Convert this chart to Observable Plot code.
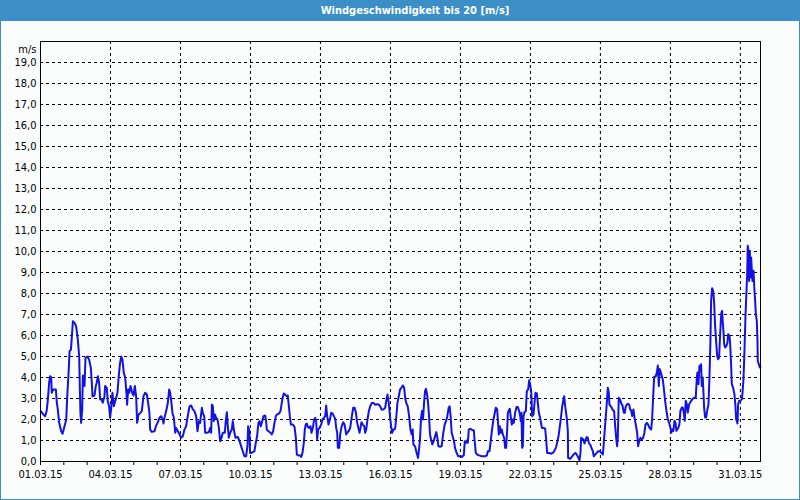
<!DOCTYPE html>
<html><head><meta charset="utf-8">
<script src="https://cdn.jsdelivr.net/npm/d3@7"></script>
<script src="https://cdn.jsdelivr.net/npm/@observablehq/plot@0.6"></script>
<style>
html,body{margin:0;padding:0;background:#fbfdfc;}
#frame{position:absolute;left:0;top:0;width:800px;height:500px;box-sizing:border-box;border:1px solid #3c8fc6;background:#fbfdfc;overflow:hidden;}
#title{position:absolute;left:-1px;top:-1px;width:800px;height:21px;box-sizing:border-box;padding-left:30px;background:#3c8fc6;color:#fff;font-family:"DejaVu Sans Condensed","DejaVu Sans",sans-serif;font-stretch:condensed;font-weight:bold;font-size:11px;text-align:center;line-height:21px;}
#chart{position:absolute;left:0;top:20px;}
</style></head><body>
<div id="frame"><div id="title">Windgeschwindigkeit bis 20 [m/s]</div><div id="chart"></div></div>
<script>
// Wind speed readings: [hours since 01.03.15 00:00, m/s]
const readings = [
[0.3,2.4],[2.9,2.24],[4.8,2.16],[6.3,2.4],[7.5,2.9],[8.9,3.75],[9.9,4.06],[11,4.0],[11.6,3.27],[13,3.43],[15.8,3.43],[16.8,2.8],[17.8,2.48],[19.2,1.84],[21.3,1.44],[22.7,1.32],[24.7,1.68],[26.5,2.0],[27.5,3.1],[28.9,4.22],[29.9,5.25],[31.3,5.33],[32.2,5.9],[33.3,6.68],[35,6.6],[36.7,6.44],[38.4,5.8],[39.8,5.0],[40.5,3.43],[41.1,2.3],[41.8,1.84],[42.9,2.48],[43.6,4.1],[44.6,4.0],[45.3,3.6],[46.3,4.94],[48,5.0],[50,4.86],[51.8,4.46],[52.8,3.75],[53.5,3.1],[55.5,3.14],[56.9,3.6],[57.9,3.75],[59,4.06],[60.3,3.75],[61.4,2.95],[63,2.95],[64,2.8],[65.8,3.1],[66.5,3.6],[68.2,3.5],[69.2,2.87],[70.6,2.63],[71.6,2.08],[72.6,2.48],[74,3.27],[75.4,2.63],[76.8,2.87],[77.8,3.03],[79.2,3.27],[80.2,3.9],[81.6,4.6],[83,5.0],[84.3,4.86],[85.7,4.22],[87.1,4.0],[88.4,3.27],[89.1,2.7],[90.2,3.43],[91.2,3.27],[92.6,3.6],[94.3,3.27],[95.7,3.14],[97,3.6],[98.4,3.1],[99.4,1.84],[100.8,2.24],[102.5,2.3],[104.2,2.4],[105.9,3.1],[107.6,3.27],
[109.4,3.19],[110.7,2.8],[112.1,2.3],[112.8,1.52],[114.5,1.41],[117.3,1.44],[118.7,1.68],[120.4,1.84],[122.4,2.08],[124.1,2.16],[125.8,2.0],[126.5,1.81],[127.5,2.08],[129.3,2.4],[131,2.8],[132.4,3.43],[133.4,3.27],[134.5,2.87],[135.8,2.3],[137.2,2.08],[138.6,1.37],[139.5,1.6],[141.3,1.44],[143,1.29],[144.7,1.13],[146.4,1.2],[148.1,1.52],[149.8,1.68],[151.5,2.16],[153.3,2.63],[155,2.67],[156.7,2.48],[158.4,2.4],[160.1,2.16],[161.5,1.44],[162.9,1.92],[164.2,1.84],[166,2.56],[167,2.3],[168.4,2.16],[169.4,1.37],[171.1,1.37],[173.2,1.4],[174.6,1.6],[175.6,1.37],[176.3,2.71],[177.3,2.63],[178.3,1.92],[179.4,2.24],[180.7,2.08],[182.1,2.0],[183.5,1.6],[184.8,0.97],[186.2,1.13],[187.6,1.37],[189.6,1.37],[190.6,1.92],[191.7,2.35],[192.7,1.68],[193.7,1.13],[195.1,1.37],[196.8,1.52],[197.8,1.92],[199.2,1.44],[200.6,1.13],[203,1.17],[204.7,0.97],[206.4,0.73],[208.1,0.49],[209.8,0.25],[211.5,0.25],[212.9,0.73],[213.6,1.68],[214.9,1.44],[215.6,0.41],[217,0.41],
[220.1,0.49],[221.5,0.89],[222.8,1.2],[224.2,1.84],[225.3,1.92],[226.6,1.68],[227.6,1.84],[229.4,2.16],[231.1,2.19],[232.1,1.92],[232.8,1.52],[234.5,1.44],[236.6,1.37],[237.9,1.29],[239.3,1.44],[240.7,1.84],[242.1,2.16],[243.4,2.24],[245.5,2.29],[246.9,2.4],[248.2,2.79],[249.3,3.08],[250.3,3.24],[251.7,3.19],[253.1,3.11],[254.4,3.14],[255.5,2.63],[256.5,2.16],[257.6,1.76],[259.6,1.76],[261.3,1.65],[262.7,1.13],[263.7,0.33],[265.4,0.29],[267.1,0.29],[268.2,0.22],[269.5,0.41],[270.9,0.89],[271.9,1.52],[272.9,1.76],[274,1.81],[275,1.65],[276.4,1.6],[277.8,1.68],[278.8,1.37],[280.2,1.6],[281.5,2.0],[282.6,2.08],[283.6,1.92],[284.6,1.05],[285.7,1.52],[287,1.6],[288.8,1.76],[290.1,2.0],[291.5,2.08],[292.9,2.16],[293.9,2.67],[294.9,2.16],[296.3,1.76],[297.7,2.0],[299.1,2.32],[300.4,2.29],[301.8,2.16],[303.2,2.03],[304.2,1.6],[305.2,1.37],[305.9,0.65],[307.3,0.65],[308.3,1.29],[309.7,1.65],[311.4,1.87],[312.8,1.76],[314.5,1.29],[315.5,1.37],[316.9,1.44],[318.6,1.6],[320.3,2.16],[321.7,2.56],[323.1,2.56],[324.4,2.35],[325.8,1.84],
[328.2,1.37],[329.2,1.6],[330.2,1.87],[331.6,1.76],[333,1.68],[334,1.37],[335.1,1.52],[336.4,2.0],[337.8,2.4],[339.2,2.63],[340.9,2.79],[342.6,2.79],[344.3,2.7],[346,2.73],[348.1,2.71],[349.4,2.63],[350.8,2.48],[352.9,2.48],[354.6,2.56],[355.6,2.87],[357,3.19],[357.6,2.95],[358.3,2.79],[359.7,2.08],[360.7,1.68],[361.7,1.37],[363.1,1.52],[364.8,1.56],[365.8,2.0],[367.2,2.79],[368.6,3.11],[369.9,3.43],[371.3,3.51],[372.7,3.62],[374.1,3.51],[375.4,2.95],[376.8,2.71],[377.8,2.63],[379.2,2.16],[380.6,1.52],[381.9,1.29],[382.9,1.52],[383.6,0.81],[385.3,0.73],[387,0.41],[388.4,0.17],[389.4,0.57],[390.4,1.05],[391.5,2.08],[392.5,2.4],[393.5,2.0],[394.6,2.79],[395.6,3.35],[396.6,3.46],[397.7,3.19],[398.7,2.79],[399.7,2.16],[400.7,1.29],[401.8,1.05],[403.1,0.81],[404.5,0.97],[405.9,1.2],[407.2,1.4],[408.3,1.13],[409.3,0.73],[411,0.7],[412.7,0.73],[414.4,1.37],[415.8,1.76],[417.2,1.92],[418.5,2.16],[419.9,2.56],[420.9,2.63],[421.9,2.16],[423,1.37],[424,1.2],[425.4,0.97],[426.4,0.65],[428.1,0.41],[429.8,0.25],[432.2,0.25],
[433.4,0.22],[435.5,0.3],[436.5,0.97],[437.5,0.89],[438.6,1.0],[439.6,0.89],[440.6,1.52],[442.3,1.56],[444.4,1.49],[445.8,1.49],[446.5,1.05],[447.8,0.41],[449.6,0.32],[451.3,0.29],[454,0.25],[457.4,0.25],[459.2,0.29],[460.2,0.49],[461.9,0.49],[462.9,0.89],[464.3,1.44],[465.7,1.92],[467,2.24],[468.4,2.56],[469.8,2.48],[470.8,1.76],[471.5,1.29],[472.5,1.68],[473.6,1.37],[474.6,1.52],[475.6,1.29],[477,1.13],[478,0.65],[479,0.65],[480.1,1.52],[480.8,2.32],[481.8,2.44],[482.8,2.51],[483.9,2.08],[484.9,1.76],[485.9,2.0],[486.9,1.84],[488.3,2.32],[489.7,2.6],[491,2.6],[492.4,2.4],[493.5,2.16],[494.1,1.92],[494.8,2.32],[495.5,0.65],[496.2,0.73],[496.9,2.16],[497.9,2.35],[499.3,2.4],[500.3,3.35],[501.7,3.43],[502.7,3.87],[503.7,3.67],[504.8,3.35],[505.8,2.16],[507.2,2.24],[508.2,2.79],[509.2,3.27],[510.6,3.24],[511.6,2.79],[512.7,2.32],[514,2.08],[515.8,1.6],[517.5,1.6],[519.2,1.56],[520.2,1.05],[521.2,0.41],[523.3,0.41],[525.4,0.37],[527.1,0.41],[528.4,0.49],[530.2,0.65],[531.5,0.89],[532.9,1.2],[534.3,1.68],[535.6,2.16],[536.7,2.63],[537.7,2.87],[538.7,3.11],[539.8,2.63],
[541.4,2.08],[542.5,1.44],[542.8,0.17],[544.9,0.13],[546.6,0.22],[548.3,0.33],[550.3,0.41],[551.7,0.33],[553.4,0.17],[554.5,0.06],[555.5,0.41],[556.2,1.13],[557.6,1.08],[558.6,1.05],[559.6,0.86],[561,1.05],[562,1.17],[563,1.13],[564.1,0.89],[565.4,0.81],[566.8,0.65],[568.2,0.49],[569.2,0.25],[570.6,0.33],[572.3,0.41],[573.7,0.49],[575,0.49],[576.4,0.44],[577.8,0.38],[578.5,0.33],[579.5,0.89],[580.5,1.52],[581.6,2.16],[582.6,2.79],[583.6,3.51],[584.6,3.3],[585.3,2.71],[586.7,2.63],[587.7,2.56],[588.8,2.44],[590.1,2.4],[591.2,1.68],[592.2,1.13],[593.2,0.73],[593.9,1.13],[594.9,3.03],[596.3,2.95],[597.3,2.79],[598.7,2.67],[600.1,2.32],[601.1,2.32],[602.1,2.63],[603.9,2.75],[605.6,2.71],[606.6,2.48],[607.6,2.44],[608.7,2.16],[610,2.48],[611.1,2.08],[612.4,1.76],[613.8,1.37],[614.8,0.73],[615.9,0.97],[617.2,1.13],[618.6,1.05],[620,1.13],[621.3,1.37],[622.4,1.76],[623.8,1.84],[625.1,1.76],[626.5,1.6],[628.2,1.52],[629.2,2.0],[630.3,3.11],[631.3,4.03],[632.7,4.03],[634,4.22],[635.1,4.57],[636.1,3.59],[636.8,4.41],[637.8,4.3],[639.2,4.06],[640.2,3.9],[641.2,3.51],[642.6,2.87],[644,2.4],[645.4,2.0],[646.7,1.84],[647.8,1.65],
[649.1,1.38],[650.1,1.54],[651.1,1.46],[652.2,1.94],[653.2,1.86],[654.2,1.46],[655.3,1.54],[656.3,1.62],[657.3,1.78],[658.3,2.41],[659.7,2.57],[660.7,2.57],[661.8,2.33],[662.8,1.94],[663.8,2.89],[664.9,2.73],[665.9,2.33],[667.3,2.73],[669,2.86],[670.7,2.97],[672.8,3.05],[674.1,3.05],[675.2,4.0],[675.8,4.24],[676.9,3.68],[677.9,4.56],[678.9,4.32],[679.6,4.63],[680.3,3.6],[681.3,4.0],[682.7,2.57],[683.7,2.1],[684.8,2.1],[685.8,2.41],[687.2,2.73],[688.2,4.0],[689.2,5.75],[689.9,7.65],[690.9,8.25],[692,8.13],[693,7.57],[694,6.46],[695,5.75],[696.1,5.03],[697.1,4.87],[698.1,4.95],[699.2,6.06],[699.9,6.7],[700.5,7.1],[701.2,7.17],[701.9,6.62],[702.6,6.22],[703.3,5.59],[704.3,5.43],[705.7,5.51],[706.7,5.67],[707.4,6.06],[708.8,5.98],[709.5,5.59],[710.5,4.56],[711.2,3.68],[712.5,3.52],[713.9,3.2],[714.9,2.65],[715.6,2.02],[716.3,1.94],[717,1.81],[717.7,2.73],[718.7,2.89],[720.1,2.89],[721.5,2.97],[722.1,3.21],[723.2,3.92],[724.2,5.27],[725.2,6.86],[726.3,8.13],[727,8.92],[727.6,10.27],[728.3,10.03],[729,8.6],[729.7,10.03],[730.4,8.76],[731.1,9.71],[731.8,9.08],[732.4,8.6],[733.5,9.08],[734.5,8.13],[735.2,7.65],[735.9,7.02],[736.9,6.7],[737.6,5.75],[737.9,4.79],[739,4.63],[740,4.48],[740.7,4.5]
];
const yTicks = [0,1,2,3,4,5,6,7,8,9,10,11,12,13,14,15,16,17,18,19];
const yGridValues = [1,2,3,4,5,6,7,8,9,10,11,12,13,14,15,16,17,18,19];
const xLabelDays = [1,4,7,10,13,16,19,22,25,28,31];
const xGridDays = [4,7,10,13,16,19,22,25,28,31];
const yUnit = "m/s";

const t0 = Date.UTC(2015, 2, 1);
const day = d => new Date(Date.UTC(2015, 2, d));
const data = readings.map(([h, v]) => ({date: new Date(t0 + h * 3600e3), v}));
const xDomain = [new Date(t0), data[data.length - 1].date];
const dayTicks = d3.utcDay.range(day(1), day(32));
const font = '"DejaVu Sans Condensed","DejaVu Sans",sans-serif';

const chart = Plot.plot({
  width: 798, height: 478,
  marginLeft: 39, marginRight: 39, marginTop: 20, marginBottom: 38,
  style: {background: "transparent", fontFamily: font, fontSize: "11px", color: "#000", fontStretch: "condensed"},
  x: {type: "utc", domain: xDomain},
  y: {domain: [0, 20]},
  marks: [
    Plot.gridY(yGridValues, {stroke: "#000", strokeOpacity: 1, strokeDasharray: "3,3"}),
    Plot.gridX(xGridDays.map(day), {stroke: "#000", strokeOpacity: 1, strokeDasharray: "3,3"}),
    Plot.line(data, {x: "date", y: "v", stroke: "#1212e4", strokeWidth: 2}),
    Plot.frame({stroke: "#000", strokeWidth: 1}),
    Plot.axisY(yTicks, {tickSize: 0, tickPadding: 4, label: null, tickFormat: d => d.toFixed(1).replace(".", ",")}),
    Plot.axisX(dayTicks, {tickSize: 4, label: null, tickFormat: () => ""}),
    Plot.axisX(xLabelDays.map(day), {tickSize: 0, tickPadding: 9, label: null, tickFormat: d3.utcFormat("%d.%m.%y")}),
    Plot.text([yUnit], {frameAnchor: "top-left", text: d => d, dx: -4, dy: 4, textAnchor: "end"})
  ]
});
document.getElementById("chart").appendChild(chart);
</script>
</body></html>
